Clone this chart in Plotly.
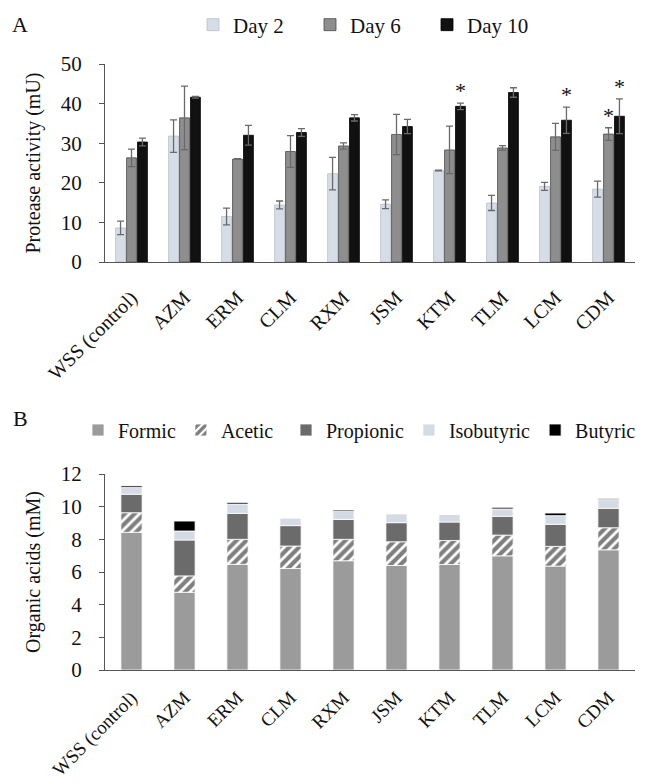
import plotly.graph_objects as go

# ---------------- data ----------------
categories = ["WSS (control)", "AZM", "ERM", "CLM", "RXM", "JSM", "KTM", "TLM", "LCM", "CDM"]

day2 = [8.6, 31.8, 11.5, 14.4, 22.3, 14.6, 23.1, 14.9, 19.1, 18.4]
day2_err = [1.7, 4.1, 2.1, 1.0, 4.1, 1.1, 0.1, 1.9, 1.0, 2.0]
day6 = [26.3, 36.4, 26.0, 27.9, 29.3, 32.2, 28.3, 28.8, 31.6, 32.3]
day6_err = [2.2, 8.0, 0.1, 4.0, 0.8, 5.1, 6.0, 0.6, 3.4, 1.6]
day10 = [30.3, 41.6, 32.0, 32.7, 36.4, 34.2, 39.3, 42.8, 35.8, 36.8]
day10_err = [1.0, 0.2, 2.5, 1.0, 0.8, 1.8, 0.8, 1.2, 3.3, 4.4]
star_day6 = [False, False, False, False, False, False, False, False, False, True]
star_day10 = [False, False, False, False, False, False, True, False, True, True]

formic = [8.43, 4.76, 6.47, 6.22, 6.69, 6.40, 6.46, 6.99, 6.36, 7.36]
acetic = [1.20, 1.00, 1.53, 1.37, 1.31, 1.45, 1.47, 1.27, 1.21, 1.35]
propionic = [1.13, 2.20, 1.59, 1.25, 1.22, 1.17, 1.13, 1.15, 1.35, 1.19]
isobutyric = [0.41, 0.55, 0.57, 0.47, 0.49, 0.55, 0.47, 0.45, 0.53, 0.53]
butyric = [0.10, 0.61, 0.10, 0.00, 0.08, 0.00, 0.00, 0.10, 0.16, 0.06]

top_ticks = [0, 10, 20, 30, 40, 50]
bottom_ticks = [0, 2, 4, 6, 8, 10, 12]

# ---------------- layout geometry (pixels) ----------------
FONT = "Liberation Serif"
W, H = 648, 784
ML, MR, MT, MB = 105, 13, 64, 114
PW, PH = W - ML - MR, H - MT - MB


def px(xp):
    return (xp - ML) / PW


def py(yp):
    return 1 - (yp - MT) / PH


top_dom = [py(262), py(64)]
bot_dom = [py(670), py(474)]
AX = "#555555"
BARGAP_TOP = 0.38
BARGROUPGAP_TOP = 0.1
ERRC = "#6a6a6a"

fig = go.Figure()

top_series = [
    ("Day 2", day2, day2_err, "#d6dde6", "#b7bfca"),
    ("Day 6", day6, day6_err, "#8e8e8e", "#4a4a4a"),
    ("Day 10", day10, day10_err, "#111111", "#000000"),
]
for name, vals, errs, fill, edge in top_series:
    fig.add_trace(go.Bar(
        x=categories, y=vals, name=name, xaxis="x", yaxis="y", legend="legend",
        marker=dict(color=fill, line=dict(color=edge, width=0.8)),
        error_y=dict(type="data", array=errs, visible=True, color=ERRC,
                     thickness=1.3, width=3.5),
    ))

bottom_series = [
    ("Formic", formic, dict(color="#9b9b9b"), "legend2"),
    ("Acetic", acetic, dict(color="#ffffff",
                            pattern=dict(shape="/", fgcolor="#000000", bgcolor="#ffffff",
                                         size=7, solidity=0.6)), "legend2"),
    ("Propionic", propionic, dict(color="#6b6b6b"), "legend3"),
    ("Isobutyric", isobutyric, dict(color="#d5dbe4"), "legend3"),
    ("Butyric", butyric, dict(color="#000000"), "legend3"),
]
cum = [0.0] * len(categories)
for name, vals, mk, lg in bottom_series:
    mk = dict(mk)
    mk["line"] = dict(color="#ffffff", width=0.8)
    fig.add_trace(go.Bar(
        x=categories, y=vals, base=list(cum), name=name, xaxis="x2", yaxis="y2",
        legend=lg, marker=mk, width=0.4, offsetgroup="stack",
    ))
    cum = [a + b for a, b in zip(cum, vals)]

# significance stars above Day 6 / Day 10 bars
slot = PW / len(categories)
bar_slot = slot * (1 - BARGAP_TOP) / 3
for flags, vals, errs, idx in [(star_day6, day6, day6_err, 1), (star_day10, day10, day10_err, 2)]:
    for c, f, v, e in zip(categories, flags, vals, errs):
        if f:
            fig.add_annotation(x=c, y=v + e, xref="x", yref="y", text="*",
                               showarrow=False, yanchor="bottom",
                               xshift=(idx - 1) * bar_slot, yshift=-2,
                               font=dict(family=FONT, size=22, color="#111111"))

# panel letters
for letter, ypx in [("A", 25), ("B", 418)]:
    fig.add_annotation(x=px(20), y=py(ypx), xref="paper", yref="paper", text=letter,
                       xanchor="center", yanchor="middle", showarrow=False,
                       font=dict(family=FONT, size=22, color="#111111"))

xcommon = dict(showline=True, linecolor=AX, linewidth=1.3, ticks="", tickangle=-45,
               domain=[0, 1], showgrid=False, zeroline=False, automargin=False)
ycommon = dict(showline=True, linecolor=AX, linewidth=1.3, ticks="outside", ticklen=5,
               tickcolor=AX, tickwidth=1.3, showgrid=False, zeroline=False,
               tickfont=dict(family=FONT, size=21, color="#111111"), ticklabelstandoff=13,
               automargin=False)

legend_common = dict(orientation="h", xanchor="left", yanchor="middle",
                     bgcolor="rgba(0,0,0,0)")
fig.update_layout(
    width=W, height=H, margin=dict(l=ML, r=MR, t=MT, b=MB, autoexpand=False),
    paper_bgcolor="white", plot_bgcolor="white",
    barmode="group", bargap=BARGAP_TOP, bargroupgap=BARGROUPGAP_TOP,
    font=dict(family=FONT, color="#111111"),
    xaxis=dict(anchor="y", tickfont=dict(family=FONT, size=20, color="#111111"),
               ticklabelstandoff=15, **xcommon),
    xaxis2=dict(anchor="y2", tickfont=dict(family=FONT, size=19, color="#111111"),
                ticklabelstandoff=8, **xcommon),
    yaxis=dict(anchor="x", domain=top_dom, range=[0, 50], tickvals=top_ticks,
               title=dict(text="Protease activity (mU)", font=dict(family=FONT, size=20),
                          standoff=14), **ycommon),
    yaxis2=dict(anchor="x2", domain=bot_dom, range=[0, 12], tickvals=bottom_ticks,
                title=dict(text="Organic acids (mM)", font=dict(family=FONT, size=20),
                           standoff=14), **ycommon),
    legend=dict(x=px(193), y=py(25), font=dict(family=FONT, size=21, color="#111111"),
                entrywidth=72, entrywidthmode="pixels", **legend_common),
    legend2=dict(x=px(78), y=py(430), font=dict(family=FONT, size=20, color="#111111"),
                 **legend_common),
    legend3=dict(x=px(286), y=py(430), font=dict(family=FONT, size=20, color="#111111"),
                 **legend_common),
)

fig.write_html("out.html", config={"displayModeBar": False},
               post_script="document.body.style.margin='0';document.body.style.padding='0';")
